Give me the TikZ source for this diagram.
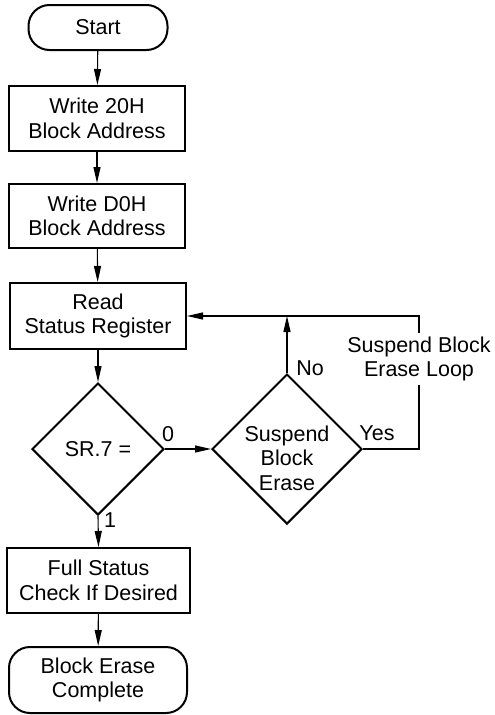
\documentclass[tikz,border=0pt]{standalone}
\usepackage{fontspec}
\setmainfont{Liberation Sans}
\usetikzlibrary{arrows.meta,shapes.geometric}

\tikzset{
  txt/.style={font=\fontsize{21.5}{24.5}\selectfont},
  base/.style={draw, line width=2pt, align=center, inner sep=0pt, txt},
  terminal/.style={base, rectangle, rounded corners=21pt},
  procbox/.style={base, rectangle},
  decision/.style={base, diamond, aspect=1},
  flow/.style={line width=1.1pt, -{Triangle[length=16pt,width=7pt]}},
  tag/.style={txt, inner sep=0pt}
}

\begin{document}
\begin{tikzpicture}[x=1pt,y=-1pt]
  \useasboundingbox (0,0) rectangle (495,715);

  % main column
  \node[terminal, minimum width=139pt, minimum height=45pt] (start) at (98,27.5) {Start};
  \node[procbox, minimum width=176pt, minimum height=65pt] (w20) at (97,118.5) {Write 20H\\Block Address};
  \node[procbox, minimum width=176pt, minimum height=64pt] (wd0) at (97,216) {Write D0H\\Block Address};
  \node[procbox, minimum width=176pt, minimum height=66pt] (rsr) at (98,316) {Read\\Status Register};
  \node[decision, minimum width=132pt, minimum height=132pt] (sr7) at (98,449) {SR.7 =};
  \node[procbox, minimum width=183pt, minimum height=65pt] (fsc) at (98.5,580.5) {Full Status\\Check If Desired};
  \node[terminal, minimum width=178pt, minimum height=66pt] (done) at (98,680) {Block Erase\\Complete};

  % suspend branch: the diamond, with its text set a little low
  \node[decision, minimum width=150pt, minimum height=150pt] (sbe) at (287,449) {};
  \node[tag, align=center] (sbetext) at (287,458) {Suspend\\Block\\Erase};

  \coordinate (loopcorner) at (419,449);
  \coordinate (looptop) at (419,316);
  \coordinate (join) at (287,316);

  % connectors
  \draw[flow] (start) -- (w20);
  \draw[flow] (w20) -- (wd0);
  \draw[flow] (wd0) -- (rsr);
  \draw[flow] (rsr) -- (sr7);
  \draw[flow] (sr7.south) -- (fsc.north);
  \draw[flow] (fsc) -- (done);
  \draw[flow] (sr7.east) -- (sbe.west);
  \draw[flow] (sbe.north) -- (join);
  \draw[flow] (sbe.east) -- (loopcorner) -- (looptop) -- (rsr.east);

  % labels
  \node[tag, fill=white, inner sep=4pt, align=center] (looplabel) at (419,359) {Suspend Block\\Erase Loop};
  \node[tag] (zero) at (168,434) {0};
  \node[tag] (one) at (110,520) {1};
  \node[tag] (no) at (310,368) {No};
  \node[tag] (yes) at (377,433) {Yes};
\end{tikzpicture}
\end{document}
